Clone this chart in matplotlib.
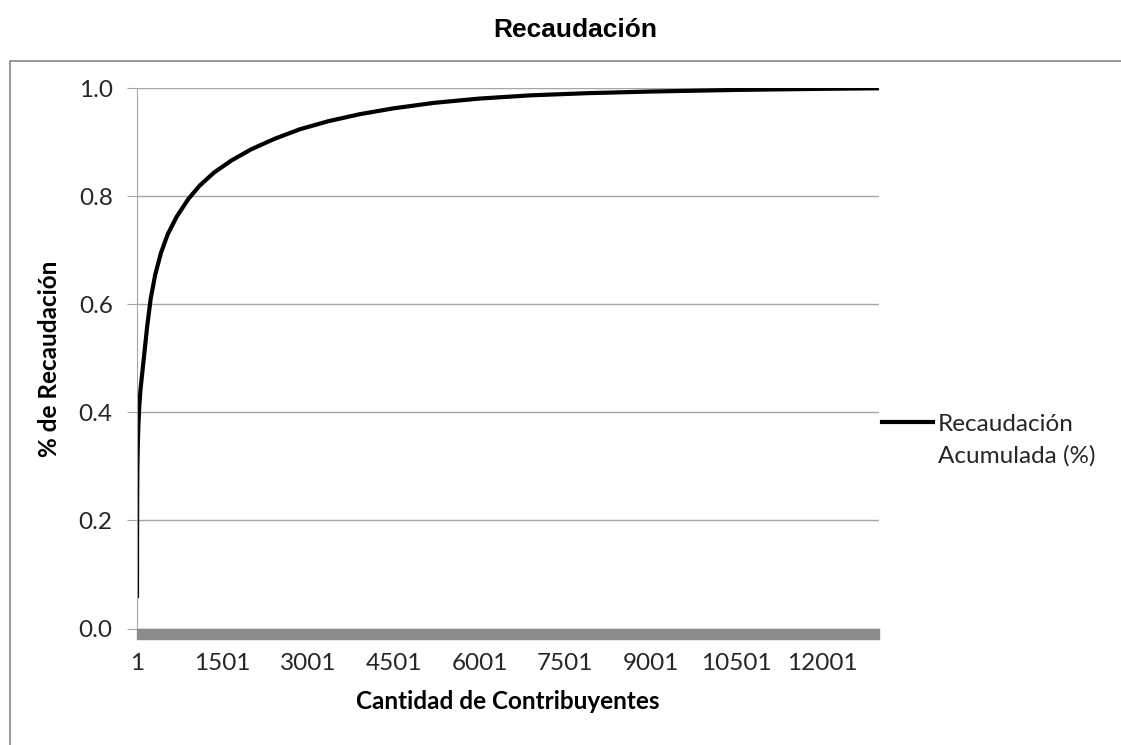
import matplotlib
matplotlib.use("Agg")
from matplotlib import pyplot as plt
from matplotlib.patches import Rectangle
from matplotlib.lines import Line2D

# cumulative share of revenue vs. number of taxpayers (sorted by contribution)
contribuyentes = [1, 2, 4, 8, 15, 25, 40, 60, 90, 130, 180, 240, 320, 420, 540,
                  700, 900, 1100, 1350, 1650, 2000, 2400, 2850, 3350, 3900,
                  4500, 5200, 6000, 6900, 7900, 9000, 10500, 12000, 13000]
recaudacion = [0.06, 0.15, 0.24, 0.30, 0.34, 0.375, 0.41, 0.44, 0.47, 0.51,
               0.56, 0.61, 0.655, 0.695, 0.73, 0.763, 0.795, 0.82, 0.844,
               0.866, 0.887, 0.906, 0.924, 0.939, 0.952, 0.963, 0.973, 0.981,
               0.987, 0.991, 0.994, 0.997, 0.999, 1.0]
xticks = [1, 1501, 3001, 4501, 6001, 7501, 9001, 10501, 12001]
yticks = [0.0, 0.2, 0.4, 0.6, 0.8, 1.0]

W, H = 1121, 745
fig = plt.figure(figsize=(W / 100, H / 100), dpi=100)
ax = fig.add_axes([137 / W, 1 - 628.5 / H, (879 - 137) / W, (628.5 - 88.3) / H])

grid_c = "#a6a6a6"
font = "Lato"
fs = 17.5

ax.plot(contribuyentes, recaudacion, color="black", lw=3, solid_joinstyle="round")

ax.set_xlim(1, 13000)
ax.set_ylim(0, 1)
ax.set_xticks(xticks)
ax.set_xticklabels([str(v) for v in xticks], fontsize=fs, family=font, color="#262626")
ax.set_yticks(yticks)
ax.set_yticklabels(["%.1f" % v for v in yticks], fontsize=fs, family=font, color="#262626")
ax.tick_params(axis="y", length=7, color=grid_c, pad=10.5)
ax.tick_params(axis="x", length=0, pad=18)
ax.grid(axis="y", color=grid_c, lw=1)
ax.set_axisbelow(True)
for s in ["top", "right", "bottom"]:
    ax.spines[s].set_visible(False)
ax.spines["left"].set_color(grid_c)

# thick category-axis bar under zero
ax.add_patch(Rectangle((0, 0), 1, -10 / 540, transform=ax.transAxes,
                       color="#8c8c8c", clip_on=False, zorder=3))

ax.set_xlabel("Cantidad de Contribuyentes", fontsize=fs, family=font,
              fontweight="bold", labelpad=11)
ax.set_ylabel("% de Recaudación", fontsize=fs, family=font,
              fontweight="bold", labelpad=13)

fig.text(575 / W, 1 - 30 / H, "Recaudación", ha="center", va="center",
         fontsize=19, family="Liberation Sans", fontweight="bold")

# legend drawn by hand to the right of the plot
fig.add_artist(Line2D([882 / W, 933 / W], [1 - 422 / H, 1 - 422 / H],
                      color="black", lw=3, transform=fig.transFigure))
fig.text(938 / W, 1 - 414 / H, "Recaudación\nAcumulada (%)", ha="left", va="top",
         fontsize=fs, family=font, color="#262626", linespacing=1.6,
         transform=fig.transFigure)

# outer chart frame
fig.add_artist(Line2D([10 / W, 10 / W, 1], [0, 1 - 60.5 / H, 1 - 60.5 / H],
                      color="#868686", lw=1.2, transform=fig.transFigure))

fig.savefig("out.png", dpi=100)
